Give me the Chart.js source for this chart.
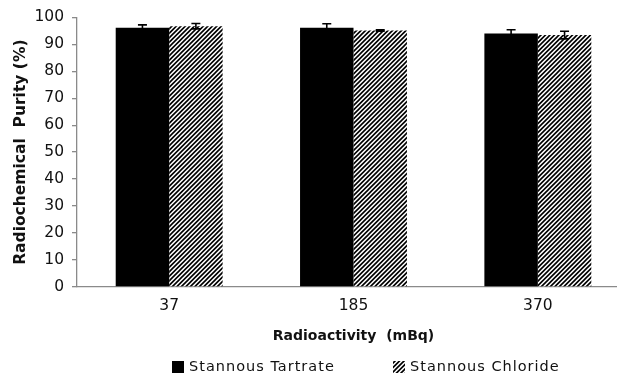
<!DOCTYPE html>
<html>
<head>
<meta charset="utf-8">
<script src="https://cdn.jsdelivr.net/npm/chart.js@4.4.1/dist/chart.umd.min.js"></script>
<style>
html,body{margin:0;padding:0;background:#fff;overflow:hidden;}
#wrap{width:617px;height:377px;overflow:hidden;}
canvas{display:block;}
</style>
</head>
<body>
<div id="wrap"><canvas id="c" width="632" height="377"></canvas></div>
<script>
// ---- data ----
const categories = ['37', '185', '370'];
const seriesNames = ['Stannous Tartrate', 'Stannous Chloride'];
const tartrate = [96.1, 96.1, 94.0];
const tartrateErr = [1.1, 1.5, 1.4];
const chloride = [96.7, 95.1, 93.4];
const chlorideErr = [1.0, 0.3, 1.4];
const yTicks = [0, 10, 20, 30, 40, 50, 60, 70, 80, 90, 100];
const xTitle = 'Radioactivity  (mBq)';
const yTitle = 'Radiochemical  Purity (%)';

// ---- hatch pattern ----
function makeHatch() {
  const s = 9, step = 4.5;
  const pc = document.createElement('canvas');
  pc.width = s; pc.height = s;
  const p = pc.getContext('2d');
  p.fillStyle = '#fff';
  p.fillRect(0, 0, s, s);
  p.strokeStyle = '#000';
  p.lineWidth = 1.6;
  p.beginPath();
  for (let o = -s; o <= 2 * s; o += step) {
    p.moveTo(o - 2, s + 2);
    p.lineTo(o + s + 2, -2);
  }
  p.stroke();
  return document.getElementById('c').getContext('2d').createPattern(pc, 'repeat');
}
const hatch = makeHatch();
const errs = [tartrateErr, chlorideErr];

const errorBars = {
  id: 'errorBars',
  afterDatasetsDraw(chart) {
    const ctx = chart.ctx;
    const y = chart.scales.y;
    ctx.save();
    ctx.strokeStyle = '#000';
    ctx.lineWidth = 1.6;
    chart.data.datasets.forEach((ds, di) => {
      const meta = chart.getDatasetMeta(di);
      meta.data.forEach((bar, i) => {
        const v = ds.data[i], e = errs[di][i];
        const yt = y.getPixelForValue(v + e), yb = y.getPixelForValue(v - e);
        const x = bar.x, w = 4.5;
        ctx.beginPath();
        ctx.moveTo(x, yt); ctx.lineTo(x, yb);
        ctx.moveTo(x - w, yt); ctx.lineTo(x + w, yt);
        ctx.moveTo(x - w, yb); ctx.lineTo(x + w, yb);
        ctx.stroke();
      });
    });
    ctx.restore();
  }
};

const customLegend = {
  id: 'customLegend',
  afterDraw(chart) {
    const ctx = chart.ctx;
    const pos = [172, 393];
    const yc = 367;
    ctx.save();
    ctx.font = '14.5px "DejaVu Sans"';
    try { ctx.letterSpacing = '1px'; } catch (e) {}
    ctx.textBaseline = 'middle';
    chart.data.datasets.forEach((ds, i) => {
      const x = pos[i];
      ctx.fillStyle = ds.backgroundColor;
      ctx.fillRect(x, yc - 6, 12, 12);
      ctx.fillStyle = '#111';
      ctx.fillText(ds.label, x + 17, yc);
    });
    ctx.restore();
  }
};

Chart.defaults.font.family = '"DejaVu Sans", Verdana, sans-serif';
Chart.defaults.color = '#111';

new Chart(document.getElementById('c'), {
  type: 'bar',
  data: {
    labels: categories,
    datasets: [
      { label: seriesNames[0], data: tartrate, backgroundColor: '#000', borderWidth: 0 },
      { label: seriesNames[1], data: chloride, backgroundColor: hatch, borderWidth: 0 }
    ]
  },
  options: {
    responsive: false,
    animation: false,
    devicePixelRatio: 1,
    categoryPercentage: 0.58,
    barPercentage: 1.0,
    layout: { padding: { top: 17, right: 2, bottom: 22, left: 0 } },
    plugins: { legend: { display: false }, tooltip: { enabled: false } },
    scales: {
      x: {
        grid: { display: false, drawTicks: false },
        border: { display: true, color: '#8a8a8a', width: 1.3 },
        ticks: { padding: 10, font: { size: 15.5 }, color: '#111' },
        title: { display: true, text: xTitle, font: { size: 14, weight: 'bold' }, color: '#111', padding: { top: 0, bottom: 10 } },
        afterFit(s) { s.height = 68; }
      },
      y: {
        min: 0, max: 100,
        afterBuildTicks(s) { s.ticks = yTicks.map(v => ({ value: v })); },
        grid: { drawOnChartArea: false, drawTicks: true, tickLength: 5, color: '#8a8a8a', lineWidth: 1.3 },
        border: { display: true, color: '#8a8a8a', width: 1.3 },
        ticks: { padding: 8, font: { size: 15.5 }, color: '#111' },
        title: { display: true, text: yTitle, font: { size: 15.5, weight: 'bold' }, color: '#111', padding: { top: 12, bottom: 0 } },
        afterFit(s) { s.width = 77; }
      }
    }
  },
  plugins: [errorBars, customLegend]
});
</script>
</body>
</html>
